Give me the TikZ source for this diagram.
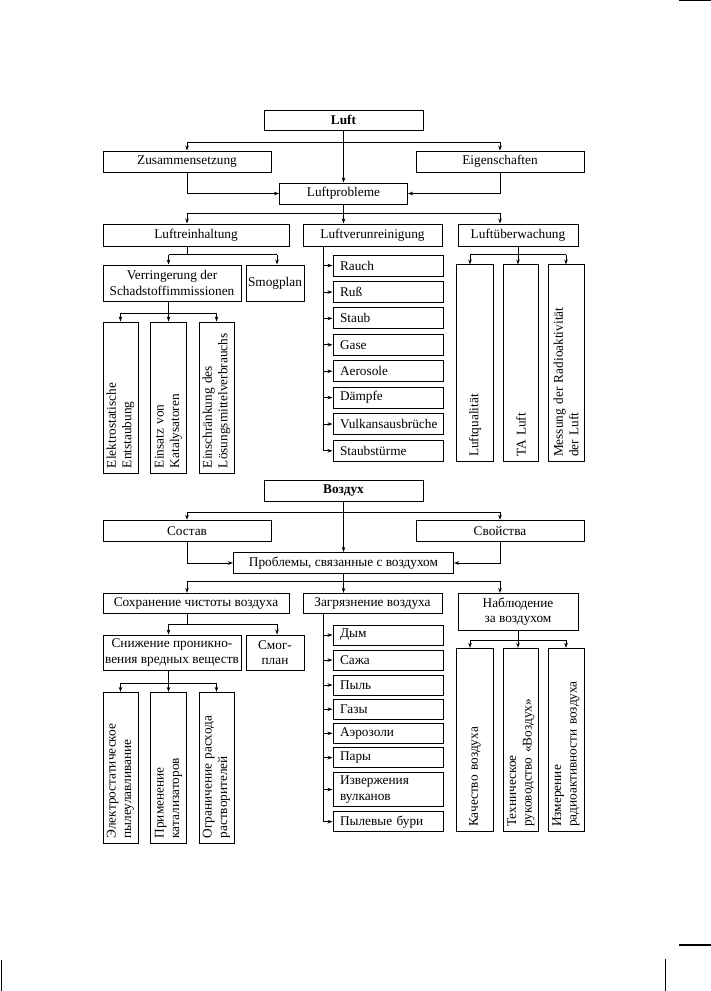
\documentclass[tikz,border=0pt]{standalone}
\usepackage{fontspec}
\setmainfont{Liberation Serif}
\usetikzlibrary{arrows.meta}
\newcommand\fz{\fontsize{13.3}{15.5}\selectfont}
\begin{document}
\begin{tikzpicture}[x=1pt,y=-1pt,
  ln/.style={line width=1pt},
  ar/.style={ln,-{Stealth[length=5pt,width=3.6pt]}},
  bx/.style n args={2}{draw,ln,inner sep=0pt,align=center,font=\fz,minimum width=#1,minimum height=#2},
  lb/.style={draw,ln,font=\fz,inner xsep=7pt,inner ysep=0pt,text width=96pt,align=left,minimum height=#1},
  vb/.style n args={2}{draw,ln,rotate=90,font=\fz,inner xsep=5pt,inner ysep=0pt,align=left,minimum height=#1,text width=#2},
  crop/.style={line width=1.2pt}]
\useasboundingbox (0,0) rectangle (711,991);

% ===================== TOP (German) =====================
\node[bx={159}{20},font=\fz\bfseries] (luft) at (343.5,120) {Luft};
\node[bx={168}{21}] (zus) at (187,161.5) {Zusammensetzung};
\node[bx={168}{21}] (eig) at (500,161.5) {Eigenschaften};
\node[bx={128}{21}] (lp) at (343.5,193.5) {Luftprobleme};
\node[bx={186}{22}] (lr) at (196,235) {Luftreinhaltung};
\node[bx={139}{22}] (lv) at (372.5,235) {Luftverunreinigung};
\node[bx={120}{22}] (lu) at (518,235) {Luftüberwachung};

\coordinate (t1) at (343.5,142);
\coordinate (t2) at (343.5,213.5);
\draw[ar] (luft.south) -- (lp.north);
\draw[ar] (t1) -| (zus.north);
\draw[ar] (t1) -| (eig.north);
\draw[ar] (zus.south) |- (lp.west);
\draw[ar] (eig.south) |- (lp.east);
\draw[ln] (lp.south) -- (t2);
\draw[ar] (t2) -| (lr.north -| zus.south);
\draw[ar] (t2) -- (lv.north -| t2);
\draw[ar] (t2) -| (lu.north -| eig.south);

% Luftreinhaltung
\node[bx={138}{36}] (verr) at (172,283) {Verringerung der\\Schadstoffimmissionen};
\node[bx={58}{36}] (smog) at (275,283) {Smogplan};
\coordinate (r1) at (187,254.5);
\coordinate (r2) at (168.5,254.5);
\coordinate (r3) at (277,254.5);
\draw[ln] (lr.south -| r1) -- (r1);
\draw[ln] (r2) -- (r3);
\draw[ar] (r2) -- (r2 |- verr.north);
\draw[ar] (r3) -- (r3 |- smog.north);

\node[vb={35}{141}] (e1) at (120.5,397.5) {Elektrostatische\\Entstaubung};
\node[vb={36}{141}] (e2) at (168.5,397.5) {Einsatz von\\Katalysatoren};
\node[vb={35}{141}] (e3) at (216.5,397.5) {Einschränkung des\\Lösungsmittelverbrauchs};
\coordinate (r4) at (168.5,313);
\draw[ln] (r2 |- verr.south) -- (r4);
\draw[ln] (r4 -| e1) -- (r4 -| e3);
\draw[ar] (r4 -| e1) -- (e1.east);
\draw[ar] (r4 -| e2) -- (e2.east);
\draw[ar] (r4 -| e3) -- (e3.east);

% Luftverunreinigung
\coordinate (s1) at (323,450.8);
\draw[ln] (lv.south -| s1) -- (s1);
\node[lb=21] (b1) at (388,265.5) {Rauch};
\node[lb=21] (b2) at (388,292) {Ruß};
\node[lb=21] (b3) at (388,318.4) {Staub};
\node[lb=21] (b4) at (388,344.8) {Gase};
\node[lb=21] (b5) at (388,371.2) {Aerosole};
\node[lb=21] (b6) at (388,397.6) {Dämpfe};
\node[lb=21] (b7) at (388,424) {Vulkansausbrüche};
\node[lb=21] (b8) at (388,450.8) {Staubstürme};
\foreach \b in {b1,b2,b3,b4,b5,b6,b7,b8}
  \draw[ar] (\b.west -| s1) -- (\b.west);

% Luftueberwachung
\node[vb={37}{187}] (q1) at (475,363.4) {Luftqualität};
\node[vb={35}{187}] (q2) at (521,363.4) {TA Luft};
\node[vb={36}{187}] (q3) at (566,363.4) {Messung der Radioaktivität\\der Luft};
\coordinate (u1) at (518,254.5);
\coordinate (u2) at (470,254.5);
\coordinate (u3) at (566,254.5);
\draw[ln] (lu.south) -- (u1);
\draw[ln] (u2) -- (u3);
\draw[ar] (u2) -- (u2 |- q1.east);
\draw[ar] (u1) -- (u1 |- q2.east);
\draw[ar] (u3) -- (u3 |- q3.east);

% ===================== BOTTOM (Russian) =====================
\node[bx={159}{21},font=\fz\bfseries] (vz) at (343.5,490.5) {Воздух};
\node[bx={168}{21.5}] (sost) at (187,531) {Состав};
\node[bx={168}{21.5}] (svoj) at (500,531) {Свойства};
\node[bx={220}{21}] (prob) at (343.5,563) {Проблемы, связанные с воздухом};
\node[bx={186}{20}] (soh) at (196,603.3) {Сохранение чистоты воздуха};
\node[bx={139}{20}] (zag) at (372.5,603.3) {Загрязнение воздуха};
\node[bx={120}{36.7}] (nab) at (518,611.7) {Наблюдение\\за воздухом};

\coordinate (t3) at (343.5,512.5);
\coordinate (t4) at (343.5,581.7);
\draw[ar] (vz.south) -- (prob.north);
\draw[ar] (t3) -| (sost.north);
\draw[ar] (t3) -| (svoj.north);
\draw[ar] (sost.south) |- (prob.west);
\draw[ar] (svoj.south) |- (prob.east);
\draw[ln] (prob.south) -- (t4);
\draw[ar] (t4) -| (soh.north -| sost.south);
\draw[ar] (t4) -- (zag.north -| t4);
\draw[ar] (t4) -| (nab.north -| svoj.south);

% Sokhranenie
\node[bx={138}{35}] (snij) at (172,652.5) {Снижение проникно-\\вения вредных веществ};
\node[bx={58}{35}] (smg) at (275,652.5) {Смог-\\план};
\coordinate (p1) at (187,624.3);
\coordinate (p2) at (168.5,624.3);
\coordinate (p3) at (277,624.3);
\draw[ln] (soh.south -| p1) -- (p1);
\draw[ln] (p2) -- (p3);
\draw[ar] (p2) -- (p2 |- snij.north);
\draw[ar] (p3) -- (p3 |- smg.north);

\node[vb={35}{141}] (e4) at (120.5,767.8) {Электростатическое\\пылеулавливание};
\node[vb={36}{141}] (e5) at (168.5,767.8) {Применение\\катализаторов};
\node[vb={35}{141}] (e6) at (216.5,767.8) {Ограничение расхода\\растворителей};
\coordinate (p4) at (168.5,683);
\draw[ln] (p2 |- snij.south) -- (p4);
\draw[ln] (p4 -| e4) -- (p4 -| e6);
\draw[ar] (p4 -| e4) -- (e4.east);
\draw[ar] (p4 -| e5) -- (e5.east);
\draw[ar] (p4 -| e6) -- (e6.east);

% Zagryaznenie
\coordinate (s2) at (323,821.7);
\draw[ln] (zag.south -| s2) -- (s2);
\node[lb=20] (c1) at (388,635) {Дым};
\node[lb=20] (c2) at (388,660) {Сажа};
\node[lb=20] (c3) at (388,685) {Пыль};
\node[lb=20] (c4) at (388,709.2) {Газы};
\node[lb=20] (c5) at (388,733.3) {Аэрозоли};
\node[lb=20] (c6) at (388,757.7) {Пары};
\node[lb=34.4] (c7) at (388,789.5) {Извержения\\вулканов};
\node[lb=20] (c8) at (388,821.7) {Пылевые бури};
\foreach \c in {c1,c2,c3,c4,c5,c6,c7,c8}
  \draw[ar] (\c.west -| s2) -- (\c.west);

% Nablyudenie
\node[vb={37}{173.4}] (q4) at (475,740) {Качество воздуха};
\node[vb={35}{173.4}] (q5) at (521,740) {Техническое\\руководство «Воздух»};
\node[vb={36}{173.4}] (q6) at (566,740) {Измерение\\радиоактивности воздуха};
\coordinate (v1) at (518,640);
\coordinate (v2) at (470,640);
\coordinate (v3) at (566,640);
\draw[ln] (nab.south) -- (v1);
\draw[ln] (v2) -- (v3);
\draw[ar] (v2) -- (v2 |- q4.east);
\draw[ar] (v1) -- (v1 |- q5.east);
\draw[ar] (v3) -- (v3 |- q6.east);

% page crop marks
\draw[crop] (679,0.6) -- (711,0.6);
\draw[crop] (679,945) -- (711,945);
\draw[crop] (665.7,959) -- (665.7,991);
\draw[crop] (1.5,960) -- (1.5,991);
\end{tikzpicture}
\end{document}
